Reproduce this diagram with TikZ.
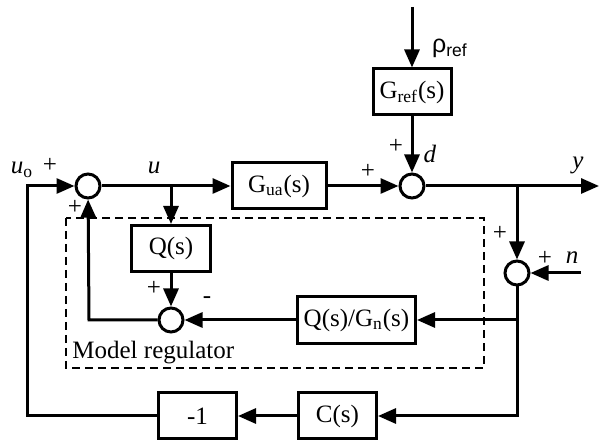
\documentclass[tikz,border=0pt]{standalone}
\usepackage{fontspec}
\setmainfont{Liberation Serif}
\newfontfamily\rhofont{Liberation Sans}
\usetikzlibrary{arrows.meta,positioning}

\begin{document}
\begin{tikzpicture}[x=0.5pt, y=-0.5pt,
  blk/.style={draw, line width=1.5pt, minimum width=39pt, minimum height=23pt,
              inner sep=0pt, font=\fontsize{12.5}{14}\selectfont},
  sum/.style={draw, circle, line width=1.5pt, minimum size=12pt, inner sep=0pt},
  lbl/.style={inner sep=0pt, font=\fontsize{12.5}{14}\selectfont},
  sig/.style={-{Triangle[length=9pt,width=7.5pt]}, line width=1.5pt},
  wire/.style={line width=1.5pt}]
  \useasboundingbox (0,0) rectangle (599,442);
  \node[sum] (sum1) at (88,186) {};
  \node[blk, minimum width=47pt] (gua) at (279,186) {G\textsubscript{ua}(s)};
  \node[sum] (sum2) at (412,186) {};
  \node[blk] (gref) at (412,92) {G\textsubscript{ref}(s)};
  \node[blk, minimum width=39.5pt] (qs) at (171,248.5) {Q(s)};
  \node[sum] (sum4) at (171,320) {};
  \node[sum] (sum3) at (517,273) {};
  \node[blk, minimum width=59pt, minimum height=23.5pt] (qgn) at (356.5,320) {Q(s)/G\textsubscript{n}(s)};
  \node[blk] (cs) at (337.5,416) {C(s)};
  \node[blk] (m1) at (197.5,416) {-1};
  \coordinate (top) at (412,7);
  \coordinate (ubr) at (171,186);
  \coordinate (ybr) at (517,186);
  \coordinate (yend) at (599,186);
  \coordinate (nin) at (581,273);
  \coordinate (fbr) at (517,320);
  \coordinate (cbr) at (517,416);
  \coordinate (lb) at (27,416);
  \coordinate (lt) at (27,186);
  \coordinate (mb) at (89,320);
  \draw[dashed, line width=0.65pt, dash pattern=on 4pt off 2.5pt] (66,218) rectangle (484,368);
  \draw[sig] (sum1) -- (gua);
  \draw[sig] (gua) -- (sum2);
  \draw[sig] (top) -- (gref);
  \draw[sig] (gref) -- (sum2);
  \draw[sig] (sum2) -- (yend);
  \draw[sig] (ubr) -- (qs);
  \draw[sig] (ybr) -- (sum3);
  \draw[sig] (nin) -- (sum3);
  \draw[sig] (sum3) -- (cbr) -- (cs);
  \draw[sig] (cs) -- (m1);
  \draw[sig] (m1) -- (lb) -- (lt) -- (sum1);
  \draw[sig] (fbr) -- (qgn);
  \draw[sig] (qgn) -- (sum4);
  \draw[sig] (qs) -- (sum4);
  \draw[sig] (sum4) -- (mb) -- (sum1);
  \node[lbl] (luo) at (22,170) {\textit{u}\textsubscript{o}};
  \node[lbl] (p1) at (50,165) {+};
  \node[lbl] (lu) at (154,168) {\textit{u}};
  \node[lbl] (p2) at (75,207) {+};
  \node[lbl] (p3) at (368,171) {+};
  \node[lbl] (p4) at (396,146) {+};
  \node[lbl] (ld) at (430,154) {\textit{d}};
  \node[lbl] (lrho) at (450,48) {\rhofont ρ\textsubscript{ref}};
  \node[lbl] (ly) at (578,165) {\textit{y}};
  \node[lbl] (p5) at (500,233) {+};
  \node[lbl] (p6) at (545,258) {+};
  \node[lbl] (ln) at (572,258) {\textit{n}};
  \node[lbl] (p7) at (154,288) {+};
  \node[lbl] (mn) at (207,300) {-};
  \node[lbl, anchor=base west] (mreg) at (72,359) {Model regulator};
\end{tikzpicture}
\end{document}
